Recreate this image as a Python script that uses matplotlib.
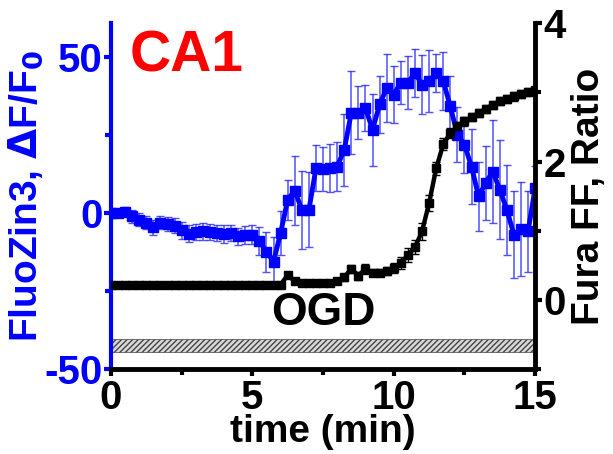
import matplotlib
matplotlib.use('Agg')
import matplotlib.pyplot as plt
from matplotlib.ticker import MultipleLocator

plt.rcParams['font.family'] = ['Liberation Sans', 'DejaVu Sans']
plt.rcParams['font.weight'] = 'bold'
plt.rcParams['mathtext.default'] = 'bf'
plt.rcParams['axes.unicode_minus'] = False

# time points (min), one every 15 s
time_min = [i * 0.25 for i in range(61)]

# FluoZin3 dF/F0 (left axis)
fluozin = [0, 0, 0.5, -1, -2, -3, -4.5, -3, -3.5, -4, -5.5, -6.5, -6,
           -5.8, -6, -6.3, -6.6, -6.3, -7.4, -6.9, -6.9, -9, -12.3, -15.5,
           -6.3, 4.3, 7.3, 1.1, 1.1, 14.5, 14.3, 14.6, 15, 20.4, 32.3, 32.3,
           33.8, 26.8, 34.9, 40.2, 38.1, 41.9, 41.9, 45, 41.3, 42.4, 45, 42.4,
           34.3, 25.2, 22, 15, 5.4, 9.7, 13.4, 7.6, 1.1, -6.9, -5, -5.8, 8.2]
fluozin_err = [0.5, 1, 1.5, 2, 2, 2.2, 2.4, 2.2, 2.2, 2.4, 2.6, 2.6, 2.6,
               2.7, 2.6, 2.6, 2.8, 2.6, 2.8, 2.8, 3, 4.5, 6.4, 8, 7, 6.4, 11,
               12.6, 12, 7.5, 7, 7.7, 8, 11.5, 13.4, 8.6, 7.5, 11.5, 9, 11, 9,
               7, 8.5, 7.6, 9.6, 10, 6, 9.4, 9.6, 8.8, 9, 12, 11, 11.8, 16.6,
               16, 14.5, 14, 15, 13, 7]

# Fura FF ratio (right axis)
fura = [0.22] * 25 + [0.36, 0.27, 0.25, 0.24, 0.24, 0.24, 0.25, 0.28, 0.33,
                      0.45, 0.35, 0.45, 0.39, 0.39, 0.42, 0.46, 0.53, 0.65,
                      0.76, 0.99, 1.40, 1.90, 2.25, 2.41, 2.51, 2.58, 2.64,
                      2.70, 2.76, 2.82, 2.87, 2.90, 2.94, 2.98, 3.01, 3.03]
fura_err = [0] * 25 + [0.05, 0.03, 0.03, 0.03, 0.03, 0.03, 0.03, 0.04, 0.05,
                       0.06, 0.06, 0.07, 0.05, 0.05, 0.06, 0.07, 0.09, 0.1,
                       0.1, 0.12, 0.12, 0.1, 0.09, 0.07, 0.06, 0.06, 0.06,
                       0.06, 0.06, 0.06, 0.06, 0.06, 0.06, 0.06, 0.06, 0.05]

ogd_start, ogd_end = 0, 15

fig = plt.figure(figsize=(6.13, 4.54), dpi=100)
ax1 = fig.add_axes([0.181, 0.187, 0.692, 0.762])
ax2 = ax1.twinx()

# OGD bar
ax1.barh(-42.5, ogd_end - ogd_start, height=4.2, left=ogd_start,
         color='#d9d9d9', edgecolor='#444444', hatch='//////', linewidth=0.5)
ax1.text(7.5, -32, 'OGD', ha='center', va='center', fontsize=33,
         fontweight='bold', color='black')

ax1.errorbar(time_min, fluozin, yerr=fluozin_err, color='blue', lw=3.5,
             marker='s', ms=7, ecolor=(0.15, 0.15, 1.0, 0.8), elinewidth=1.1,
             capsize=3, capthick=1)
ax2.errorbar(time_min, fura, yerr=fura_err, color='black', lw=3.2,
             marker='s', ms=5.5, ecolor='black', elinewidth=1,
             capsize=3, capthick=1)

ax1.set_xlim(0, 15)
ax1.set_ylim(-50, 61)
ax2.set_ylim(-1, 4)

ax1.set_xticks([0, 5, 10, 15])
ax1.xaxis.set_minor_locator(MultipleLocator(2.5))
ax1.set_yticks([-50, 0, 50])
ax1.yaxis.set_minor_locator(MultipleLocator(25))
ax2.set_yticks([0, 2, 4])
ax2.yaxis.set_minor_locator(MultipleLocator(1))

for ax in (ax1, ax2):
    ax.spines['top'].set_visible(False)
ax1.spines['left'].set_color('blue')
ax1.spines['left'].set_linewidth(3)
ax1.spines['bottom'].set_linewidth(3.5)
ax2.spines['right'].set_linewidth(3.5)
ax2.spines['left'].set_visible(False)
ax2.spines['bottom'].set_visible(False)
ax1.spines['right'].set_visible(False)

ax1.tick_params(axis='x', which='major', length=5, width=3, labelsize=29, pad=2)
ax1.tick_params(axis='x', which='minor', length=4, width=3)
ax1.tick_params(axis='y', which='major', length=5, width=3, colors='blue',
                labelsize=29, pad=1)
ax1.tick_params(axis='y', which='minor', length=4, width=3, colors='blue')
ax2.tick_params(axis='y', which='major', length=5, width=3, labelsize=29, pad=1)
ax2.tick_params(axis='y', which='minor', length=4, width=3)

ax1.set_xlabel('time (min)', fontsize=28, fontweight='bold', labelpad=-2)
ax1.set_ylabel(r'FluoZin3, $\Delta$F/F$_0$', fontsize=28, fontweight='bold',
               color='blue')
ax1.yaxis.set_label_coords(-0.155, 0.5)
ax2.set_ylabel('Fura FF, Ratio', fontsize=28, fontweight='bold', labelpad=4)

ax1.text(0.045, 0.905, 'CA1', transform=ax1.transAxes, color='red',
         fontsize=41, fontweight='bold', va='center', ha='left')

fig.savefig('out.png', dpi=100)
plt.close(fig)
